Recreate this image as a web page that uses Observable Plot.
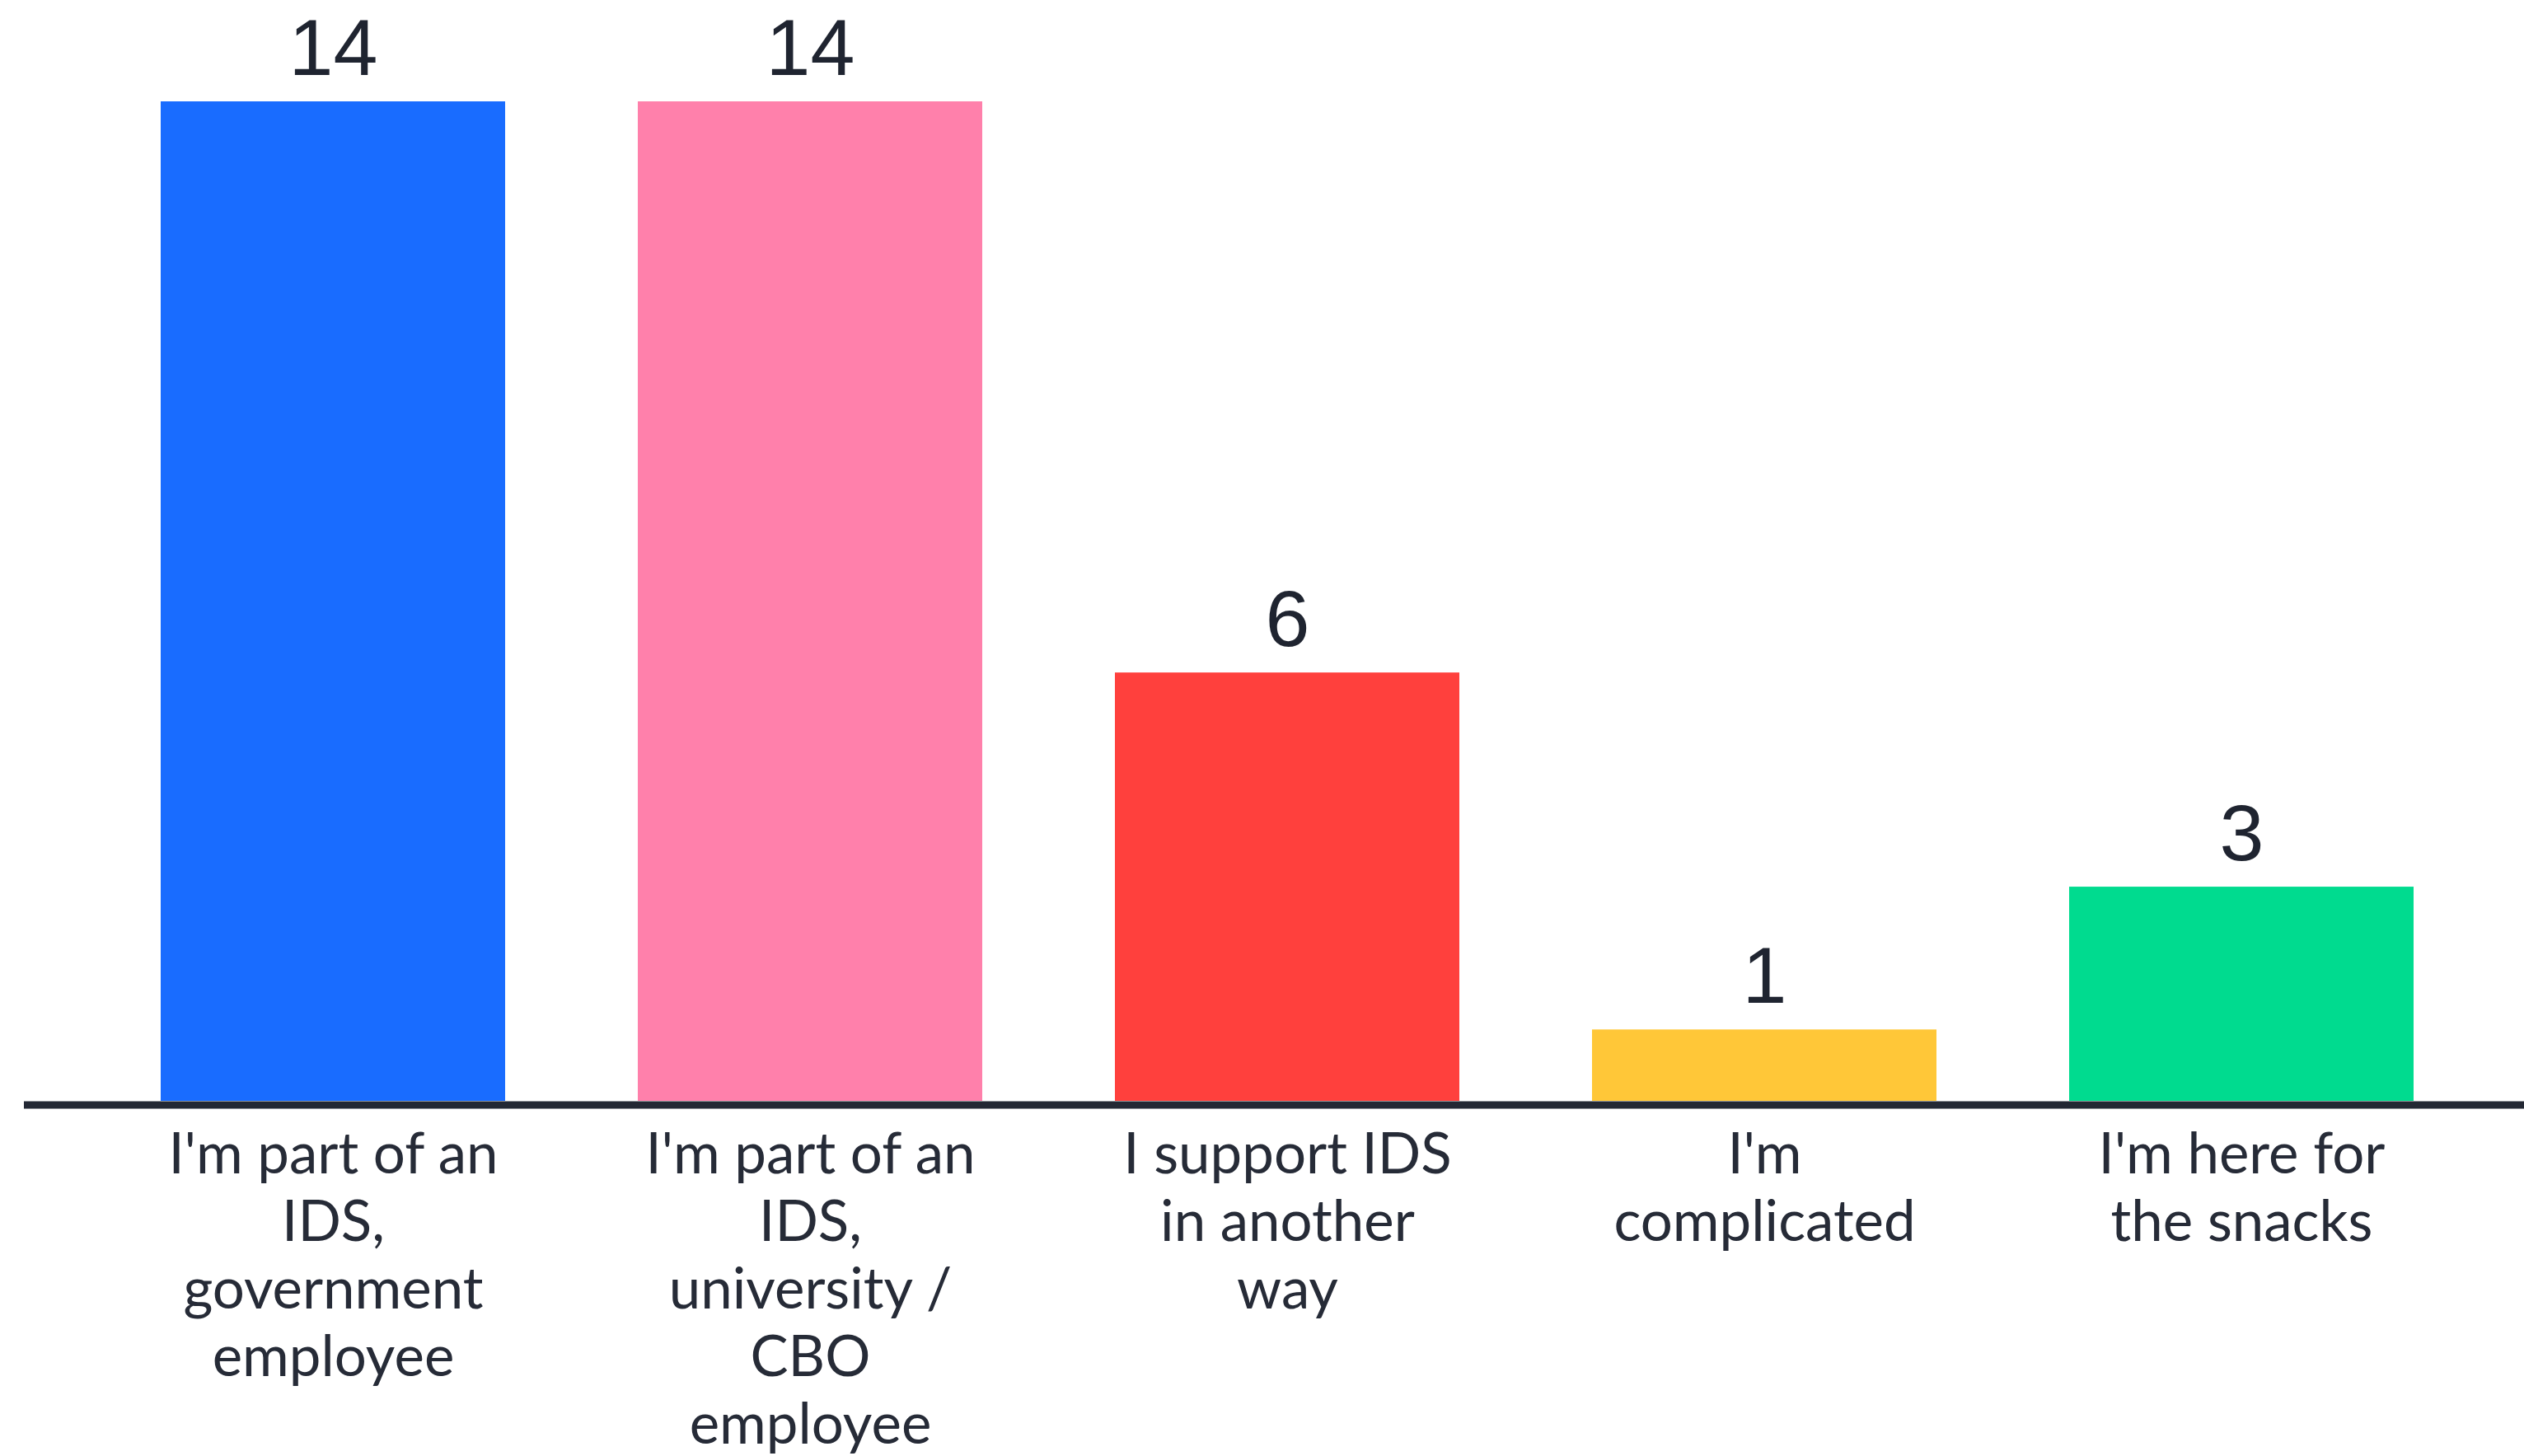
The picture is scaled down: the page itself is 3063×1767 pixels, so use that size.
<!DOCTYPE html>
<html>
<head>
<meta charset="utf-8">
<script src="https://cdn.jsdelivr.net/npm/d3@7"></script>
<script src="https://cdn.jsdelivr.net/npm/@observablehq/plot@0.6"></script>
<style>
  html, body { margin: 0; padding: 0; background: #ffffff; }
  #chart { width: 3063px; height: 1767px; overflow: hidden; }
</style>
</head>
<body>
<div id="chart"></div>
<script>
const categories = [
  "I'm part of an IDS, government employee",
  "I'm part of an IDS, university / CBO employee",
  "I support IDS in another way",
  "I'm complicated",
  "I'm here for the snacks"
];
const values = [14, 14, 6, 1, 3];
const tickLabels = [
  "I'm part of an\nIDS,\ngovernment\nemployee",
  "I'm part of an\nIDS,\nuniversity /\nCBO\nemployee",
  "I support IDS\nin another\nway",
  "I'm\ncomplicated",
  "I'm here for\nthe snacks"
];
const colors = ["#196cff", "#ff80ab", "#ff403d", "#ffc738", "#00db8f"];

const data = categories.map((c, i) => ({category: c, value: values[i]}));
const labelOf = new Map(categories.map((c, i) => [c, tickLabels[i]]));

const chart = Plot.plot({
  width: 3063,
  height: 1767,
  marginLeft: 137,
  marginRight: 76,
  marginTop: 123,
  marginBottom: 431,
  style: {background: "#ffffff"},
  x: {domain: categories, paddingInner: 0.278, paddingOuter: 0.1, label: null},
  y: {domain: [0, 14], axis: null},
  color: {domain: categories, range: colors},
  marks: [
    Plot.barY(data, {x: "category", y: "value", fill: "category"}),
    Plot.ruleY([0], {stroke: "#232834", strokeWidth: 9, dy: 4.5, insetLeft: -108, insetRight: -76}),
    Plot.text(data, {
      x: "category", y: "value", text: d => String(d.value),
      lineAnchor: "bottom", dy: -33,
      fontSize: 97, fontFamily: "Liberation Sans, Arial, sans-serif", fill: "#1f2430"
    }),
    Plot.axisX({
      tickSize: 0, tickPadding: 29, label: null,
      tickFormat: d => labelOf.get(d),
      fontSize: 69, lineHeight: 1.19,
      fontFamily: "Lato, sans-serif", fill: "#262b37"
    })
  ]
});
document.getElementById("chart").appendChild(chart);
</script>
</body>
</html>
